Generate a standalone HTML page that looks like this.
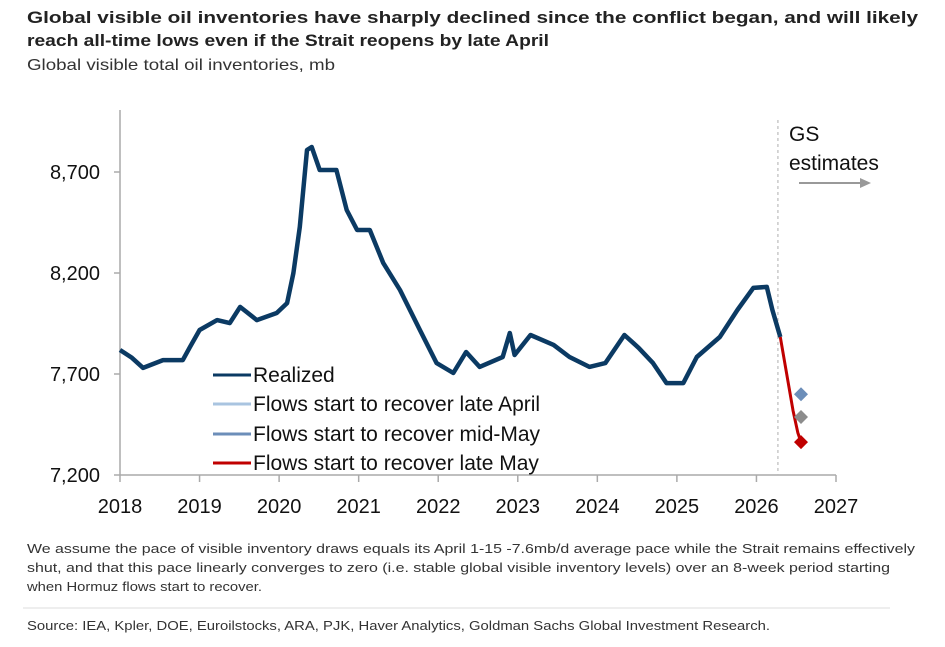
<!DOCTYPE html>
<html><head><meta charset="utf-8"><style>
html,body{margin:0;padding:0;background:#fff;}
svg{display:block;font-family:"Liberation Sans",Arial,sans-serif;}
</style></head><body>
<svg id="chart" width="945" height="647" viewBox="0 0 945 647">
<rect width="945" height="647" fill="#fff"/>
<text x="27" y="23" font-size="17" font-weight="bold" fill="#222" textLength="891" lengthAdjust="spacingAndGlyphs">Global visible oil inventories have sharply declined since the conflict began, and will likely</text>
<text x="27" y="46" font-size="17" font-weight="bold" fill="#222" textLength="522" lengthAdjust="spacingAndGlyphs">reach all-time lows even if the Strait reopens by late April</text>
<text x="27" y="70" font-size="16" fill="#333" textLength="308" lengthAdjust="spacingAndGlyphs">Global visible total oil inventories, mb</text>
<g id="plot"></g>
<text x="789" y="141" font-size="21" fill="#111">GS</text>
<text x="789" y="170" font-size="21" fill="#111">estimates</text>
<line x1="799" y1="183" x2="862" y2="183" stroke="#999" stroke-width="2"/>
<polygon points="860,178 871,183 860,188" fill="#999"/>
<g>
<line x1="213" y1="375" x2="251" y2="375" stroke="#0b3a63" stroke-width="3"/>
<text x="253" y="382" font-size="21" fill="#111">Realized</text>
<line x1="213" y1="404" x2="251" y2="404" stroke="#a9c4e0" stroke-width="3"/>
<text x="253" y="411" font-size="21" fill="#111">Flows start to recover late April</text>
<line x1="213" y1="434" x2="251" y2="434" stroke="#6c8eb9" stroke-width="3"/>
<text x="253" y="441" font-size="21" fill="#111">Flows start to recover mid-May</text>
<line x1="213" y1="463" x2="251" y2="463" stroke="#c00000" stroke-width="3"/>
<text x="253" y="470" font-size="21" fill="#111">Flows start to recover late May</text>
</g>
<text x="27" y="553" font-size="13" fill="#333" textLength="888" lengthAdjust="spacingAndGlyphs">We assume the pace of visible inventory draws equals its April 1-15 -7.6mb/d average pace while the Strait remains effectively</text>
<text x="27" y="572" font-size="13" fill="#333" textLength="863" lengthAdjust="spacingAndGlyphs">shut, and that this pace linearly converges to zero (i.e. stable global visible inventory levels) over an 8-week period starting</text>
<text x="27" y="591" font-size="13" fill="#333" textLength="235" lengthAdjust="spacingAndGlyphs">when Hormuz flows start to recover.</text>
<line x1="23" y1="608" x2="890" y2="608" stroke="#ddd" stroke-width="1"/>
<text x="27" y="630" font-size="13" fill="#333" textLength="743" lengthAdjust="spacingAndGlyphs">Source: IEA, Kpler, DOE, Euroilstocks, ARA, PJK, Haver Analytics, Goldman Sachs Global Investment Research.</text>
</svg>
<script>
const xTicks = [2018,2019,2020,2021,2022,2023,2024,2025,2026,2027];
const yTicks = [7200,7700,8200,8700];
const yTickLabels = ["7,200","7,700","8,200","8,700"];
const realizedYears = [2018.00,2018.15,2018.29,2018.54,2018.79,2018.88,2019.00,2019.22,2019.38,2019.51,2019.72,2019.97,2020.10,2020.18,2020.26,2020.35,2020.41,2020.51,2020.72,2020.85,2020.98,2021.14,2021.31,2021.52,2021.77,2021.98,2022.19,2022.35,2022.52,2022.81,2022.90,2022.96,2023.16,2023.45,2023.65,2023.90,2024.10,2024.34,2024.52,2024.70,2024.87,2025.08,2025.25,2025.54,2025.76,2025.96,2026.13,2026.20,2026.30];
const realizedValues = [7819,7780,7730,7769,7769,7834,7918,7967,7952,8032,7967,8002,8051,8200,8428,8809,8824,8710,8710,8512,8413,8413,8249,8116,7918,7754,7705,7809,7735,7784,7903,7794,7893,7844,7784,7735,7754,7893,7829,7754,7655,7655,7784,7883,8017,8126,8131,8017,7883];
const projYears = [2026.30,2026.38,2026.46,2026.52,2026.56];
const projLateMay = [7883,7700,7520,7410,7363];
const diamondYear = 2026.56;
const diamondValues = [7600,7487,7363];
const diamondColors = ["#6c8eb9","#8c8c8c","#c00000"];
const diamondNames = ["diamond-late-april","diamond-mid-may","diamond-late-may"];
const NS="http://www.w3.org/2000/svg";
const X0=120,X1=836,Y0=475,Y1=172;
function xs(y){return X0+(y-2018)/(2027-2018)*(X1-X0);}
function ys(v){return Y0-(v-7200)/(8700-7200)*(Y0-Y1);}
const g=document.getElementById('plot');
function mk(t,a){const e=document.createElementNS(NS,t);for(const k in a)e.setAttribute(k,a[k]);g.appendChild(e);return e;}
let e;
e=mk('line',{x1:X0,y1:110,x2:X0,y2:Y0,stroke:'#aaa','stroke-width':1.5});


e=mk('line',{x1:X0,y1:Y0,x2:X1,y2:Y0,stroke:'#aaa','stroke-width':1.5});


yTicks.forEach((v,i)=>{
 const t=mk('line',{x1:X0-6,y1:ys(v),x2:X0,y2:ys(v),stroke:'#aaa','stroke-width':1.5});
 
 
 const l=mk('text',{x:100,y:ys(v)+7,'text-anchor':'end','font-size':20,fill:'#111'});
 l.textContent=yTickLabels[i];
 
 
});
xTicks.forEach(y=>{
 const t=mk('line',{x1:xs(y),y1:Y0,x2:xs(y),y2:Y0+7,stroke:'#aaa','stroke-width':1.5});
 
 
 const l=mk('text',{x:xs(y),y:513,'text-anchor':'middle','font-size':20,fill:'#111'});
 l.textContent=y;
 
 
});
e=mk('line',{x1:xs(2026.27),y1:120,x2:xs(2026.27),y2:Y0,stroke:'#bbb','stroke-width':1.2,'stroke-dasharray':'3,3'});


let d=realizedYears.map((y,i)=>(i?'L':'M')+xs(y).toFixed(1)+','+ys(realizedValues[i]).toFixed(1)).join('');
e=mk('path',{d:d,fill:'none',stroke:'#0b3a63','stroke-width':4.5,'stroke-linejoin':'round'});


d=projYears.map((y,i)=>(i?'L':'M')+xs(y).toFixed(1)+','+ys(projLateMay[i]).toFixed(1)).join('');
e=mk('path',{d:d,fill:'none',stroke:'#c00000','stroke-width':3,'stroke-linejoin':'round'});


diamondValues.forEach((v,i)=>{
 const cx=xs(diamondYear),cy=ys(v),r=7;
 const p=mk('polygon',{points:`${cx},${cy-r} ${cx+r},${cy} ${cx},${cy+r} ${cx-r},${cy}`,fill:diamondColors[i]});
 
 
});
</script>
</body></html>
